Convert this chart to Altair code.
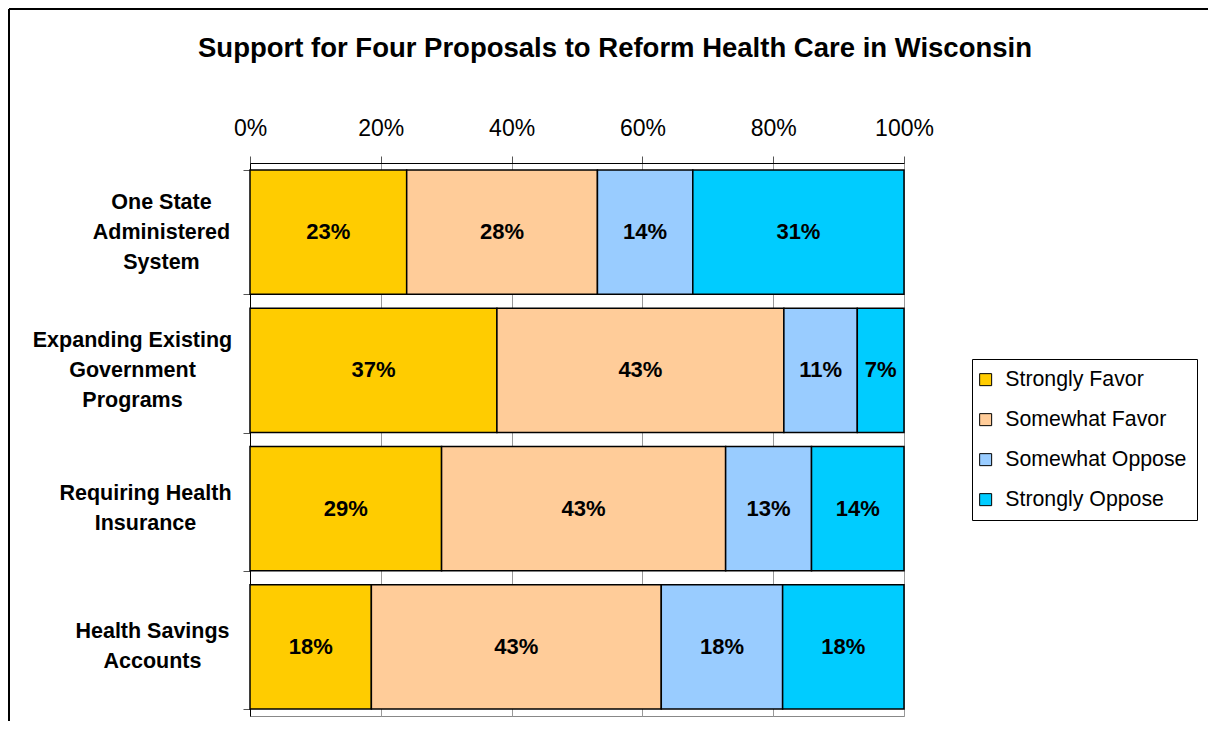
import altair as alt
import pandas as pd

categories = [
    "One State|Administered|System",
    "Expanding Existing|Government|Programs",
    "Requiring Health|Insurance",
    "Health Savings|Accounts",
]
responses = ["Strongly Favor", "Somewhat Favor", "Somewhat Oppose", "Strongly Oppose"]
strongly_favor = [23, 37, 29, 18]
somewhat_favor = [28, 43, 43, 43]
somewhat_oppose = [14, 11, 13, 18]
strongly_oppose = [31, 7, 14, 18]
colors = ["#FFCC00", "#FFCC99", "#99CCFF", "#00CCFF"]
x_ticks = [0, 0.2, 0.4, 0.6, 0.8, 1.0]
title_text = "Support for Four Proposals to Reform Health Care in Wisconsin"

FONT = "Liberation Sans"

rows = []
for k, (name, vals) in enumerate(zip(responses, [strongly_favor, somewhat_favor, somewhat_oppose, strongly_oppose])):
    for c, v in zip(categories, vals):
        rows.append({"proposal": c, "response": name, "order": k, "value": v})
df = pd.DataFrame(rows)

base = alt.Chart(df).transform_stack(
    stack="value",
    as_=["v0", "v1"],
    groupby=["proposal"],
    sort=[alt.SortField("order", order="ascending")],
    offset="normalize",
).transform_calculate(
    mid="(datum.v0 + datum.v1) / 2",
    label="datum.value + '%'",
)

# per-label styling: centre each multi-line block vertically, and right-align blocks
pad_by_label = [82, 111, 98, 91]
offset_cond = {
    "condition": {"test": "length(split(datum.value, '|')) == 3", "value": -30},
    "value": -15,
}
padding_cond = {
    "condition": [
        {"test": f"datum.value == '{c}'", "value": p}
        for c, p in zip(categories[:3], pad_by_label[:3])
    ],
    "value": pad_by_label[3],
}

y_enc = alt.Y(
    "proposal:N",
    sort=categories,
    title=None,
    scale=alt.Scale(paddingInner=0.1, paddingOuter=0.05),
    axis=alt.Axis(
        labelExpr="split(datum.label, '|')",
        labelFont=FONT,
        labelFontSize=21.5,
        labelFontWeight="bold",
        labelColor="black",
        labelAlign="center",
        labelBaseline="middle",
        labelLineHeight=30,
        labelPadding=padding_cond,
        labelOffset=offset_cond,
        labelLimit=0,
        tickBand="extent",
        tickSize=7,
        tickColor="#555555",
        domainColor="black",
        grid=False,
    ),
)

bars = base.mark_bar(stroke="black", strokeWidth=1.5).encode(
    y=y_enc,
    x=alt.X(
        "v0:Q",
        title=None,
        scale=alt.Scale(domain=[0, 1], nice=False),
        axis=alt.Axis(
            orient="top",
            format=".0%",
            values=x_ticks,
            labelFont=FONT,
            labelFontSize=23,
            labelColor="black",
            labelPadding=16,
            labelFlush=False,
            tickSize=7,
            tickColor="#555555",
            domainColor="black",
            grid=True,
            gridColor="#999999",
            gridWidth=1,
        ),
    ),
    x2="v1:Q",
    color=alt.Color(
        "response:N",
        sort=responses,
        scale=alt.Scale(domain=responses, range=colors),
        legend=alt.Legend(
            title=None,
            orient="none",
            legendX=722,
            legendY=196,
            direction="vertical",
            strokeColor="black",
            padding=10,
            rowPadding=18,
            symbolType="square",
            symbolSize=144,
            symbolOffset=-7,
            symbolStrokeColor="black",
            symbolStrokeWidth=1,
            labelFont=FONT,
            labelFontSize=21.3,
            labelColor="black",
            labelLimit=400,
            labelOffset=9,
        ),
    ),
)

texts = base.mark_text(font=FONT, fontSize=22, fontWeight="bold", color="black").encode(
    y=alt.Y("proposal:N", sort=categories),
    x=alt.X("mid:Q"),
    text="label:N",
)

frame_df = pd.DataFrame({"k": [0]})
left_frame = alt.Chart(frame_df).mark_rule(color="black", strokeWidth=2).encode(
    x=alt.value(-241), y=alt.value(-154), y2=alt.value(560)
)
top_frame = alt.Chart(frame_df).mark_rule(color="black", strokeWidth=2).encode(
    x=alt.value(-241), x2=alt.value(960), y=alt.value(-154)
)

title_df = pd.DataFrame({"title": [title_text]})
title_mark = alt.Chart(title_df).mark_text(
    font=FONT, fontSize=27.5, fontWeight="bold", color="black", align="center", baseline="alphabetic"
).encode(x=alt.value(365), y=alt.value(-106), text="title:N")

chart = alt.layer(bars, texts, left_frame, top_frame, title_mark).properties(
    width=654,
    height=553,
    padding={"left": 242, "top": 155, "right": 304, "bottom": 5},
    autosize=alt.AutoSizeParams(type="none"),
).configure_view(stroke="#888888", strokeWidth=1)

chart.save("out.html", embed_options={"renderer": "svg", "actions": False})
